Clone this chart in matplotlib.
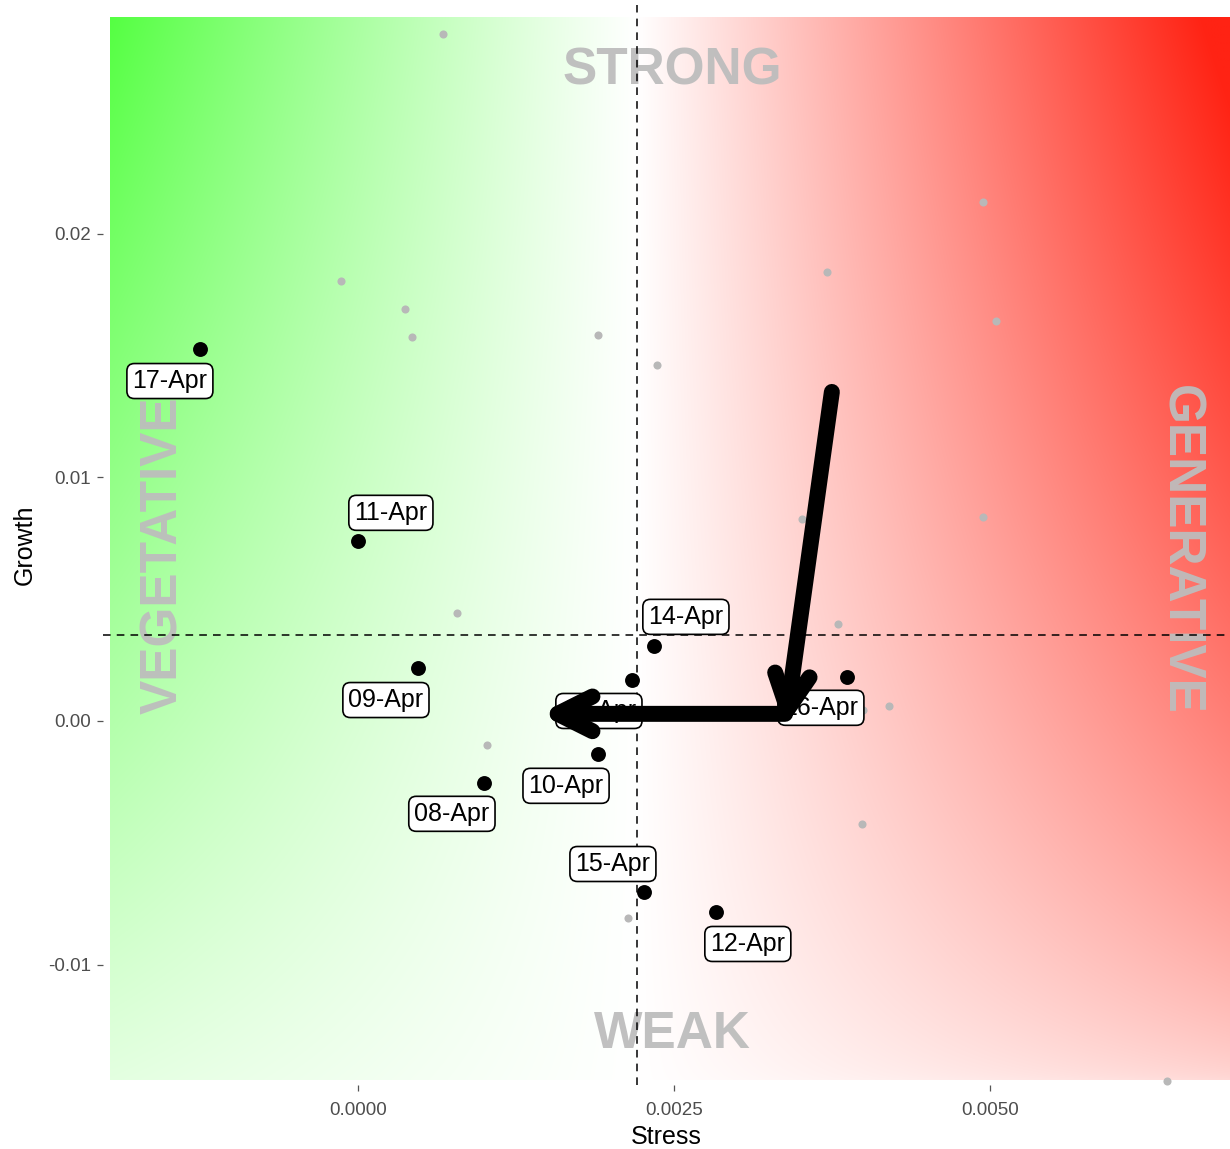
import numpy as np
import matplotlib.pyplot as plt
from matplotlib.patches import FancyArrowPatch

plt.rcParams['font.family'] = ['Liberation Sans', 'DejaVu Sans']

# daily points (this week)
dates = ['08-Apr', '09-Apr', '10-Apr', '11-Apr', '12-Apr',
         '13-Apr', '14-Apr', '15-Apr', '16-Apr', '17-Apr']
stress = [0.000997, 0.000475, 0.0019, 0.0, 0.002832,
          0.002168, 0.002342, 0.002263, 0.003869, -0.00125]
growth = [-0.00254, 0.00217, -0.00135, 0.00739, -0.00784,
          0.00168, 0.00308, -0.00702, 0.00181, 0.01526]

# older points shown in grey
old_stress = [0.000672, -0.000134, 0.000372, 0.000427, 0.0019, 0.002366,
              0.00371, 0.004945, 0.005047, 0.004945, 0.003513, 0.000783,
              0.003797, 0.003995, 0.004201, 0.003987, 0.001021, 0.002136,
              0.0064, 0.001962]
old_growth = [0.02819, 0.01805, 0.01691, 0.01576, 0.01584, 0.01461,
              0.01842, 0.0213, 0.01641, 0.00837, 0.00829, 0.00443,
              0.00398, 0.00045, 0.00062, -0.00423, -0.00098, -0.00808,
              -0.01477, 0.0007]

# movement arrows (start -> end)
arrow_x0 = [0.00375, 0.00338]
arrow_y0 = [0.0135, 0.00029]
arrow_x1 = [0.00338, 0.00144]
arrow_y1 = [-0.00025, 0.00029]

# reference lines
stress_ref = 0.00221
growth_ref = 0.00353

# label offsets in pixels (right, down)
label_dx = [-32, -32, -32, 33, 32, -33, 32, -31, -26, -30]
label_dy = [31, 32, 32, -28, 32, 31, -29, -28, 31, 32]

xticks = [0.0, 0.0025, 0.005]
xticklabels = ['0.0000', '0.0025', '0.0050']
yticks = [-0.01, 0.0, 0.01, 0.02]
yticklabels = ['-0.01', '0.00', '0.01', '0.02']

fig = plt.figure(figsize=(12.3, 11.49), dpi=100)
ax = fig.add_axes([0.0837, 0.0557, 0.9163, 0.940])
xmin, xmax = -0.002017, 0.0069
ymin, ymax = -0.01494, 0.02938
ax.set_xlim(xmin, xmax)
ax.set_ylim(ymin, ymax)

# background: green on the left, red on the right, fading downwards
gx0, gx1, gy0, gy1 = -0.001962, 0.0069, -0.01473, 0.02885
nx, ny = 800, 600
u = np.linspace(0, 1, nx)[None, :]
v = np.linspace(1, 0, ny)[:, None]
c = (stress_ref - gx0) / (gx1 - gx0)
t_left = np.clip((c - u) / c, 0, 1)
t_right = np.clip((u - c) / (1 - c), 0, 1)
green = np.array([70, 255, 50]) / 255
red = np.array([255, 35, 20]) / 255
sl = (t_left ** 1.1 * (0.15 + 0.77 * v))[..., None]
sr = np.clip(t_right * (0.17 + 0.88 * v ** 0.7), 0, 1)[..., None]
img = np.ones((ny, nx, 3))
img = img * (1 - sl) + green * sl
img = img * (1 - sr) + red * sr
ax.imshow(img, extent=[gx0, gx1, gy0, gy1], aspect='auto', zorder=0,
          interpolation='bilinear')

# quadrant words
word_kw = dict(color='#bdbdbd', fontsize=37, fontweight='bold',
               ha='center', va='center', zorder=1.5, alpha=0.95)
ax.text(0.00249, 0.02667, 'STRONG', **word_kw)
ax.text(0.00249, -0.01288, 'WEAK', **word_kw)
ax.text(-0.00154, 0.00681, 'VEGETATIVE', rotation=90, **word_kw)
ax.text(0.0065, 0.00702, 'GENERATIVE', rotation=-90, **word_kw)

ax.axvline(stress_ref, color='black', lw=1.1, ls=(0, (5, 4)), zorder=3)
ax.axhline(growth_ref, color='black', lw=1.1, ls=(0, (5, 4)), zorder=3)

ax.scatter(old_stress, old_growth, s=34, color='#b8b8b8', zorder=2,
           linewidths=0)
ax.scatter(stress, growth, s=115, color='black', zorder=4, linewidths=0)

px = 0.72  # points per pixel at 100 dpi
for d, x, y, dx, dy in zip(dates, stress, growth, label_dx, label_dy):
    ax.annotate(d, xy=(x, y), xytext=(dx * px, -dy * px),
                textcoords='offset points', ha='center', va='center',
                fontsize=18, zorder=5,
                bbox=dict(boxstyle='round,pad=0.22,rounding_size=0.3',
                          fc='white', ec='black', lw=1.2))

for x0, y0, x1, y1 in zip(arrow_x0, arrow_y0, arrow_x1, arrow_y1):
    arr = FancyArrowPatch((x0, y0), (x1, y1),
                          arrowstyle='->,head_length=25,head_width=12.5',
                          mutation_scale=1, lw=11.5, color='black',
                          capstyle='round', joinstyle='round',
                          shrinkA=0, shrinkB=0, zorder=6)
    ax.add_patch(arr)

for s in ax.spines.values():
    s.set_visible(False)
ax.set_xticks(xticks)
ax.set_xticklabels(xticklabels)
ax.set_yticks(yticks)
ax.set_yticklabels(yticklabels)
ax.tick_params(length=4.5, width=0.9, color='#555555', labelcolor='#4d4d4d',
               labelsize=13.5)
ax.tick_params(axis='x', pad=8)
ax.tick_params(axis='y', pad=4)
ax.set_xlabel('Stress', fontsize=18, labelpad=4)
ax.set_ylabel('Growth', fontsize=18, labelpad=8)

fig.savefig('out.png', dpi=100)
